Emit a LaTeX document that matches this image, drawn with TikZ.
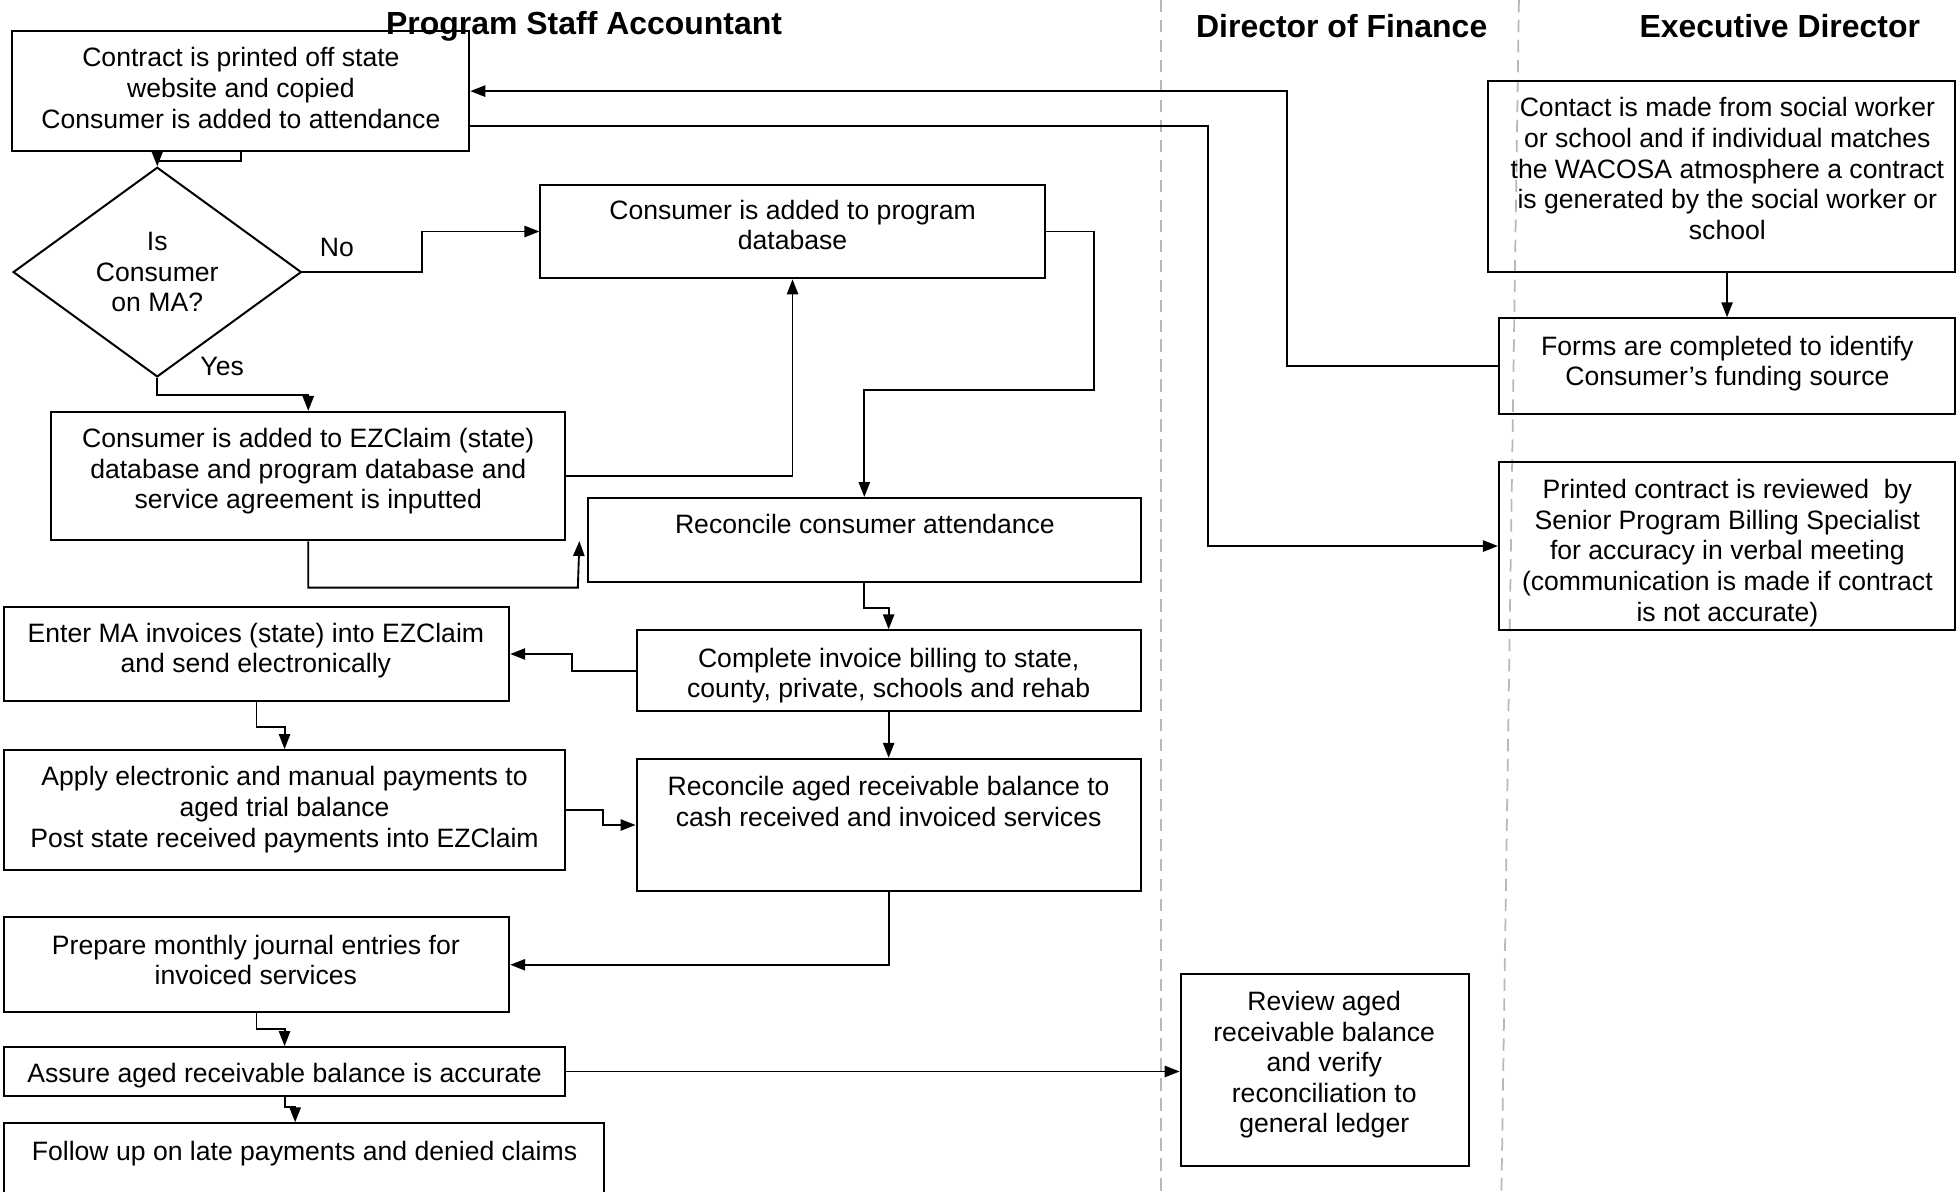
\documentclass[tikz,border=0pt]{standalone}
\usepackage{fontspec}
\setmainfont{Liberation Sans}
\usetikzlibrary{arrows.meta,shapes.geometric,fit,calc}
\begin{document}
\begin{tikzpicture}[x=1pt,y=-1pt,
 box/.style={draw, line width=1.6pt, inner sep=0pt},
 txt/.style={font=\fontsize{21.3}{24.5}\selectfont, align=center, inner sep=0pt, anchor=north},
 lbl/.style={font=\fontsize{21.3}{24.5}\selectfont, inner sep=0pt},
 ttl/.style={font=\fontsize{25.6}{30}\selectfont\bfseries, inner sep=0pt},
 arr/.style={line width=1.5pt, -{Triangle[length=12pt,width=9pt]}},
 lane/.style={draw=black!28, line width=1.4pt, dash pattern=on 10pt off 6pt}]
\useasboundingbox (0,0) rectangle (1568,955);

% lane separators
\draw[lane] (930,0) -- (930,955);
\draw[lane] (1217,0) -- (1203,955);

% titles
\node[ttl] (h1) at (468,21) {Program Staff Accountant};
\node[ttl] (h2) at (1075,21) {Director of Finance};
\node[ttl] (h3) at (1426,21) {Executive Director};

% boxes
\node[box, fit={(10,25)(376,121)}] (contract) {};
\node[box, fit={(433,148)(837,223)}] (progdb) {};
\node[box, fit={(41,330)(453,433)}] (ez) {};
\node[box, fit={(471,399)(914,466)}] (recatt) {};
\node[box, fit={(510,505)(914,570)}] (complete) {};
\node[box, fit={(3,486)(408,562)}] (enterma) {};
\node[box, fit={(3,601)(453,697)}] (apply) {};
\node[box, fit={(510,608)(914,714)}] (recaged) {};
\node[box, fit={(3,735)(408,811)}] (prepare) {};
\node[box, fit={(3,839)(453,878)}] (assure) {};
\node[box, fit={(3,900)(484,975)}] (follow) {};
\node[box, fit={(946,780)(1177,934)}] (review) {};
\node[box, fit={(1192,65)(1566.5,218)}] (contact) {};
\node[box, fit={(1201,255)(1566.5,332)}] (forms) {};
\node[box, fit={(1201,370)(1566.5,505)}] (printed) {};
\node[draw, diamond, line width=1.6pt, minimum width=231pt, minimum height=168pt, inner sep=0pt] (dia) at (126,218) {};

% texts
\node[txt] (tcontract) at (193,38) {Contract is printed off state\\website and copied\\Consumer is added to attendance};
\node[txt] (tprogdb) at (635,160) {Consumer is added to program\\database};
\node[txt] (tez) at (247,343) {Consumer is added to EZClaim (state)\\database and program database and\\service agreement is inputted};
\node[txt] (trecatt) at (693,412) {Reconcile consumer attendance};
\node[txt] (tcomplete) at (712,519) {Complete invoice billing to state,\\county, private, schools and rehab};
\node[txt] (tenterma) at (205,499) {Enter MA invoices (state) into EZClaim\\and send electronically};
\node[txt] (tapply) at (228,614) {Apply electronic and manual payments to\\aged trial balance\\Post state received payments into EZClaim};
\node[txt] (trecaged) at (712,622) {Reconcile aged receivable balance to\\cash received and invoiced services};
\node[txt] (tprepare) at (205,749) {Prepare monthly journal entries for\\invoiced services};
\node[txt] (tassure) at (228,852) {Assure aged receivable balance is accurate};
\node[txt] (tfollow) at (244,914) {Follow up on late payments and denied claims};
\node[txt] (treview) at (1061,794) {Review aged\\receivable balance\\and verify\\reconciliation to\\general ledger};
\node[txt] (tcontact) at (1384,78) {Contact is made from social worker\\or school and if individual matches\\the WACOSA atmosphere a contract\\is generated by the social worker or\\school};
\node[txt] (tforms) at (1384,269) {Forms are completed to identify\\Consumer’s funding source};
\node[txt] (tprinted) at (1384,384) {Printed contract is reviewed\ \ by\\Senior Program Billing Specialist\\for accuracy in verbal meeting\\(communication is made if contract\\is not accurate)};
\node[txt] (tdia) at (126,186) {Is\\Consumer\\on MA?};
\node[lbl] (lno) at (270,198) {No};
\node[lbl] (lyes) at (178,294) {Yes};

% connectors
\draw[arr] (contract.south) -- ++(0,7) -| (dia.north);
\draw[arr] (dia.east) -- ++(96,0) |- (progdb.west);
\draw[arr] (dia.south) -- ++(0,14) -| (ez.north);
\draw[arr] (ez.east) -| (progdb.south);
\draw[arr] (progdb.east) -- ++(39,0) -- ++(0,127) -| (recatt.north);
\draw[arr] (ez.south) -- ++(0,37) -- ++(216,0) -- ($(recatt.west)+(-6,1)$);
\draw[arr] (recatt.south) -- ++(0,20) -| (complete.north);
\draw[arr] (complete.west) -- ++(-51,0) |- (enterma.east);
\draw[arr] (enterma.south) -- ++(0,20) -| (apply.north);
\draw[arr] (complete.south) -- (recaged.north);
\draw[arr] (apply.east) -- ++(29,0) |- (recaged.west);
\draw[arr] (recaged.south) |- (prepare.east);
\draw[arr] (prepare.south) -- ++(0,13) -| (assure.north);
\draw[arr] (assure.east) -- (review.west |- assure.east);
\draw[arr] (assure.south) -- ++(0,8) -| ($(follow.north)+(-7,0)$);
\draw[arr] (forms.north |- contact.south) -- (forms.north);
\draw[arr] (forms.west) -- ++(-169,0) |- (contract.east);
\draw[arr] ($(contract.east)+(0,28)$) -- ++(591,0) |- (printed.west);
\end{tikzpicture}
\end{document}
